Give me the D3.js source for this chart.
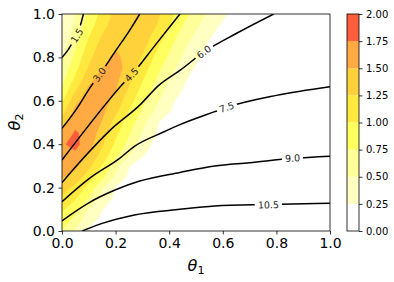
<!DOCTYPE html>
<html>
<head>
<meta charset="utf-8">
<script src="https://cdn.jsdelivr.net/npm/d3@7"></script>
<style>
body { margin: 0; background: #fff; }
svg { display: block; }
text { font-family: "DejaVu Sans", sans-serif; }
</style>
</head>
<body>
<div id="chart"></div>
<script>
// axis ticks
const tickValues = [0, 0.2, 0.4, 0.6, 0.8, 1.0];

// filled contour levels + colours (colorbar)
const fillLevels = [0, 0.25, 0.5, 0.75, 1.0, 1.25, 1.5, 1.75, 2.0];
const fillColors = ["#ffffff", "#ffffc2", "#ffff99", "#ffff5e", "#ffe93f", "#ffd13a", "#ffaa42", "#ff5e3d"];

// line contours: level, label, traced points [theta1, theta2], label position
const lineLevels = [1.5, 3.0, 4.5, 6.0, 7.5, 9.0, 10.5];
const lineLabels = ["1.5", "3.0", "4.5", "6.0", "7.5", "9.0", "10.5"];
const linePoints = [
  [[0, 0.80], [0.02, 0.83], [0.04, 0.87], [0.056, 0.90], [0.08, 1.0]],
  [[0, 0.473], [0.05, 0.555], [0.11, 0.67], [0.14, 0.72], [0.2, 0.83], [0.25, 0.92], [0.29, 1.0]],
  [[0, 0.327], [0.086, 0.465], [0.16, 0.58], [0.223, 0.673], [0.26, 0.72], [0.35, 0.86], [0.44, 1.0]],
  [[0, 0.223], [0.08, 0.336], [0.18, 0.465], [0.29, 0.58], [0.36, 0.67], [0.44, 0.74], [0.53, 0.825], [0.65, 0.91], [0.79, 1.0]],
  [[0, 0.135], [0.1, 0.24], [0.216, 0.336], [0.27, 0.39], [0.377, 0.455], [0.44, 0.49], [0.57, 0.55], [0.615, 0.57], [0.8, 0.625], [1.0, 0.665]],
  [[0, 0.047], [0.1, 0.13], [0.2, 0.19], [0.29, 0.23], [0.44, 0.27], [0.57, 0.30], [0.7, 0.315], [0.86, 0.335], [1.0, 0.345]],
  [[0.075, 0], [0.15, 0.035], [0.27, 0.074], [0.44, 0.10], [0.57, 0.115], [0.77, 0.122], [1.0, 0.128]]
];
const labelAt = [[0.056, 0.90], [0.14, 0.72], [0.26, 0.72], [0.53, 0.825], [0.615, 0.57], [0.86, 0.335], [0.77, 0.12]];

// density grid, rows theta2 = 1.0 (top) .. 0.0, cols theta1 = 0 .. 1 step 0.05
const density = [
  [0.2, 0.5, 0.8, 1.08, 1.32, 1.44, 1.42, 1.32, 1.08, 0.85, 0.65, 0.45, 0.3, 0.15, 0, 0, 0, 0, 0, 0, 0],
  [0.25, 0.55, 0.88, 1.15, 1.38, 1.47, 1.42, 1.27, 1.02, 0.75, 0.55, 0.35, 0.22, 0.1, 0, 0, 0, 0, 0, 0, 0],
  [0.3, 0.62, 0.98, 1.26, 1.45, 1.48, 1.38, 1.16, 0.9, 0.65, 0.45, 0.28, 0.12, 0, 0, 0, 0, 0, 0, 0, 0],
  [0.38, 0.72, 1.08, 1.36, 1.49, 1.46, 1.32, 1.06, 0.8, 0.55, 0.36, 0.2, 0.05, 0, 0, 0, 0, 0, 0, 0, 0],
  [0.45, 0.82, 1.18, 1.44, 1.53, 1.45, 1.22, 0.95, 0.7, 0.48, 0.3, 0.12, 0, 0, 0, 0, 0, 0, 0, 0, 0],
  [0.55, 0.92, 1.28, 1.5, 1.58, 1.42, 1.12, 0.85, 0.6, 0.4, 0.22, 0.08, 0, 0, 0, 0, 0, 0, 0, 0, 0],
  [0.65, 1.05, 1.42, 1.6, 1.56, 1.32, 1.02, 0.75, 0.5, 0.3, 0.15, 0, 0, 0, 0, 0, 0, 0, 0, 0, 0],
  [0.8, 1.22, 1.55, 1.65, 1.5, 1.22, 0.92, 0.65, 0.42, 0.24, 0.1, 0, 0, 0, 0, 0, 0, 0, 0, 0, 0],
  [0.95, 1.42, 1.65, 1.62, 1.4, 1.1, 0.82, 0.55, 0.32, 0.15, 0, 0, 0, 0, 0, 0, 0, 0, 0, 0, 0],
  [1.15, 1.58, 1.7, 1.55, 1.3, 0.98, 0.72, 0.45, 0.26, 0.1, 0, 0, 0, 0, 0, 0, 0, 0, 0, 0, 0],
  [1.38, 1.68, 1.7, 1.48, 1.15, 0.88, 0.58, 0.28, 0.14, 0, 0, 0, 0, 0, 0, 0, 0, 0, 0, 0, 0],
  [1.58, 1.78, 1.66, 1.38, 1.05, 0.78, 0.48, 0.26, 0.1, 0, 0, 0, 0, 0, 0, 0, 0, 0, 0, 0, 0],
  [1.72, 1.82, 1.6, 1.28, 0.95, 0.66, 0.4, 0.18, 0, 0, 0, 0, 0, 0, 0, 0, 0, 0, 0, 0, 0],
  [1.74, 1.7, 1.48, 1.15, 0.82, 0.52, 0.28, 0.1, 0, 0, 0, 0, 0, 0, 0, 0, 0, 0, 0, 0, 0],
  [1.64, 1.55, 1.3, 0.98, 0.58, 0.26, 0.1, 0, 0, 0, 0, 0, 0, 0, 0, 0, 0, 0, 0, 0, 0],
  [1.52, 1.4, 1.12, 0.82, 0.46, 0.2, 0.06, 0, 0, 0, 0, 0, 0, 0, 0, 0, 0, 0, 0, 0, 0],
  [1.36, 1.18, 0.92, 0.52, 0.24, 0.08, 0, 0, 0, 0, 0, 0, 0, 0, 0, 0, 0, 0, 0, 0, 0],
  [1.2, 1.02, 0.74, 0.4, 0.2, 0.06, 0, 0, 0, 0, 0, 0, 0, 0, 0, 0, 0, 0, 0, 0, 0],
  [1.04, 0.84, 0.46, 0.26, 0.1, 0, 0, 0, 0, 0, 0, 0, 0, 0, 0, 0, 0, 0, 0, 0, 0],
  [0.9, 0.66, 0.35, 0.18, 0.06, 0, 0, 0, 0, 0, 0, 0, 0, 0, 0, 0, 0, 0, 0, 0, 0],
  [0.74, 0.46, 0.2, 0.06, 0, 0, 0, 0, 0, 0, 0, 0, 0, 0, 0, 0, 0, 0, 0, 0, 0]
];

const margin = {top: 14, left: 62},
    width = 268,
    height = 217;

const svg = d3.select("#chart")
    .append("svg")
    .attr("width", 394)
    .attr("height", 282);

const g = svg.append("g")
    .attr("transform", `translate(${margin.left},${margin.top})`);

const x = d3.scaleLinear().domain([0, 1]).range([0, width]);
const y = d3.scaleLinear().domain([0, 1]).range([height, 0]);

svg.append("clipPath").attr("id", "plotclip")
    .append("rect").attr("width", width).attr("height", height);

// filled contours
const nx = density[0].length, ny = density.length;
const gx = d3.scaleLinear().domain([0.5, nx - 0.5]).range([0, 1]);
const gy = d3.scaleLinear().domain([0.5, ny - 0.5]).range([1, 0]);
const bands = d3.contours()
    .size([nx, ny])
    .thresholds(fillLevels.slice(1, -1))(density.flat());
const proj = d3.geoTransform({
    point(px, py) { this.stream.point(x(gx(px)), y(gy(py))); }
});
const geo = d3.geoPath(proj);

g.append("g")
    .attr("clip-path", "url(#plotclip)")
    .selectAll("path")
    .data(bands)
    .join("path")
    .attr("d", geo)
    .attr("fill", (d, i) => fillColors[i + 1])
    .attr("stroke", (d, i) => fillColors[i + 1])
    .attr("stroke-width", 0.4);

// contour labels (measure first so the line can be cut under them)
const labelG = g.append("g");
const mask = svg.append("mask").attr("id", "labelmask")
    .attr("maskUnits", "userSpaceOnUse")
    .attr("x", -10).attr("y", -10).attr("width", width + 20).attr("height", height + 20);
mask.append("rect").attr("x", -10).attr("y", -10)
    .attr("width", width + 20).attr("height", height + 20).attr("fill", "#fff");

function angleAt(pts, p) {
    let best = 1e9, ang = 0;
    for (let i = 0; i < pts.length - 1; i++) {
        const ax = x(pts[i][0]), ay = y(pts[i][1]), bx = x(pts[i + 1][0]), by = y(pts[i + 1][1]);
        const mx = (ax + bx) / 2, my = (ay + by) / 2;
        const dd = (mx - x(p[0])) ** 2 + (my - y(p[1])) ** 2;
        if (dd < best) { best = dd; ang = Math.atan2(by - ay, bx - ax) * 180 / Math.PI; }
    }
    if (ang > 90) ang -= 180;
    if (ang < -90) ang += 180;
    return ang;
}

lineLevels.forEach((lv, i) => {
    const p = labelAt[i];
    const a = angleAt(linePoints[i], p);
    const t = labelG.append("text")
        .attr("transform", `translate(${x(p[0])},${y(p[1])}) rotate(${a})`)
        .attr("text-anchor", "middle")
        .attr("dy", "0.35em")
        .attr("font-size", 9.5)
        .attr("fill", "#222")
        .text(lineLabels[i]);
    const w = t.node().getComputedTextLength();
    mask.append("rect")
        .attr("transform", `translate(${x(p[0])},${y(p[1])}) rotate(${a})`)
        .attr("x", -w / 2 - 3).attr("y", -5)
        .attr("width", w + 6).attr("height", 10)
        .attr("fill", "#000");
});

const line = d3.line()
    .x(d => x(d[0]))
    .y(d => y(d[1]))
    .curve(d3.curveMonotoneX);

g.append("g")
    .attr("clip-path", "url(#plotclip)")
    .append("g")
    .attr("mask", "url(#labelmask)")
    .selectAll("path")
    .data(linePoints)
    .join("path")
    .attr("d", line)
    .attr("fill", "none")
    .attr("stroke", "#000")
    .attr("stroke-width", 1.5);

labelG.raise();

// axes
const xAxis = g.append("g")
    .attr("transform", `translate(0,${height})`)
    .call(d3.axisBottom(x).tickValues(tickValues).tickFormat(d3.format(".1f"))
        .tickSize(3.5).tickPadding(3.5).tickSizeOuter(0));
const yAxis = g.append("g")
    .call(d3.axisLeft(y).tickValues(tickValues).tickFormat(d3.format(".1f"))
        .tickSize(3.5).tickPadding(3.5).tickSizeOuter(0));
[xAxis, yAxis].forEach(ax => {
    ax.select(".domain").remove();
    ax.selectAll("line").attr("stroke", "#000").attr("stroke-width", 0.8);
    ax.selectAll("text").attr("font-size", 14).attr("fill", "#000")
        .style("font-family", "DejaVu Sans");
});

g.append("rect")
    .attr("width", width).attr("height", height)
    .attr("fill", "none").attr("stroke", "#000").attr("stroke-width", 0.8);

// axis labels
const xl = svg.append("text")
    .attr("x", 196).attr("y", 271)
    .attr("text-anchor", "middle")
    .attr("font-size", 16);
xl.append("tspan").attr("font-style", "italic").text("θ");
xl.append("tspan").attr("font-size", 11).attr("dy", 3).text("1");

const yl = svg.append("text")
    .attr("transform", "translate(20,122) rotate(-90)")
    .attr("text-anchor", "middle")
    .attr("font-size", 16);
yl.append("tspan").attr("font-style", "italic").text("θ");
yl.append("tspan").attr("font-size", 11).attr("dy", 3).text("2");

// colorbar
const cbX = 347, cbW = 12;
const cy = d3.scaleLinear().domain([0, 2]).range([margin.top + height, margin.top]);
const cb = svg.append("g");
cb.selectAll("rect")
    .data(fillColors)
    .join("rect")
    .attr("x", cbX)
    .attr("y", (d, i) => cy(fillLevels[i + 1]))
    .attr("width", cbW)
    .attr("height", (d, i) => cy(fillLevels[i]) - cy(fillLevels[i + 1]))
    .attr("fill", d => d);
cb.append("rect")
    .attr("x", cbX).attr("y", cy(2)).attr("width", cbW).attr("height", cy(0) - cy(2))
    .attr("fill", "none").attr("stroke", "#000").attr("stroke-width", 0.8);
const cAxis = svg.append("g")
    .attr("transform", `translate(${cbX + cbW},0)`)
    .call(d3.axisRight(cy).tickValues(fillLevels).tickFormat(d3.format(".2f"))
        .tickSize(3.5).tickPadding(3.5).tickSizeOuter(0));
cAxis.select(".domain").remove();
cAxis.selectAll("line").attr("stroke", "#000").attr("stroke-width", 0.8);
cAxis.selectAll("text").attr("font-size", 10).attr("fill", "#000")
    .style("font-family", "DejaVu Sans");
</script>
</body>
</html>
